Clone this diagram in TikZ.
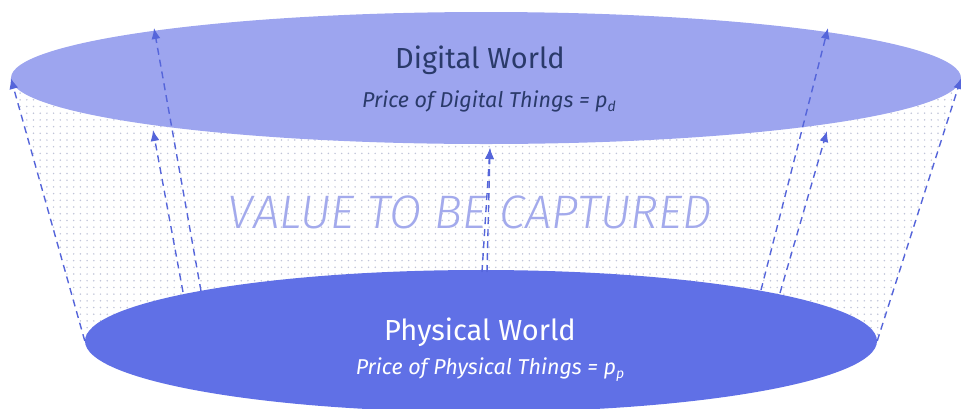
\documentclass[tikz,border=0pt]{standalone}
\usepackage{fontspec}
\setmainfont{Fira Sans}
\newfontfamily\thinfont{Fira Sans Light}[ItalicFont={Fira Sans Light Italic}]
\usetikzlibrary{shapes.geometric,arrows.meta,patterns}

\definecolor{digitalblue}{HTML}{9DA5EF}
\definecolor{physicalblue}{HTML}{6070E6}
\definecolor{arrowblue}{HTML}{5565DA}
\definecolor{navytext}{HTML}{2A3A6A}
\definecolor{valuetext}{HTML}{A3AAEC}
\definecolor{dotgray}{HTML}{C0C4D8}

\pgfdeclarepatternformonly{sparsedots}{\pgfpoint{-1pt}{-1pt}}{\pgfpoint{1pt}{1pt}}{\pgfpoint{6.7pt}{6.7pt}}%
  {\pgfpathcircle{\pgfpointorigin}{0.85pt}\pgfusepath{fill}}

% italic subscript in the text face
\newcommand{\pricesub}[1]{p\raisebox{-0.35ex}{\fontsize{14}{16}\selectfont #1}}

\begin{document}
\begin{tikzpicture}[
    x=1pt, y=-1pt,
    world/.style={ellipse, inner sep=0pt, draw=none},
    flow/.style={draw=arrowblue, line width=1.4pt, dash pattern=on 7pt off 5pt,
                 -{Latex[length=11pt,width=9pt]}},
    title/.style={font=\fontsize{29}{34}\selectfont},
    price/.style={font=\itshape\fontsize{21.5}{26}\selectfont}
]
\useasboundingbox (0,0) rectangle (961,408);

% the two worlds
\node[world, minimum width=950pt, minimum height=132pt] (digital) at (486,78) {};
\node[world, minimum width=792pt, minimum height=142pt] (physical) at (481,341) {};

% dotted gap between them
\fill[pattern=sparsedots, pattern color=dotgray]
  (digital.west) -- (digital.east) -- (physical.east) -- (physical.west) -- cycle;
\fill[digitalblue] (digital.center) ellipse [x radius=475, y radius=66];
\fill[physicalblue] (physical.center) ellipse [x radius=396, y radius=71];

\node[font=\thinfont\itshape\fontsize{47}{54}\selectfont, text=valuetext] (value) at (470,212) {VALUE TO BE CAPTURED};

% arrow ends
\coordinate (bl2) at (183,292); \coordinate (tl2) at (153,130);
\coordinate (bl3) at (201,291); \coordinate (tl3) at (154,28);
\coordinate (bm1) at (482,272); \coordinate (bm2) at (487,272); \coordinate (tm) at (490,148);
\coordinate (br3) at (761,290); \coordinate (tr3) at (828,28);
\coordinate (br2) at (780,293); \coordinate (tr2) at (827,131);

\draw[flow] (physical.west) -- (digital.west);
\draw[flow] (bl2) -- (tl2);
\draw[flow] (bl3) -- (tl3);
\draw[flow] (bm1) -- (tm);
\draw[flow] (bm2) -- (tm);
\draw[flow] (br3) -- (tr3);
\draw[flow] (br2) -- (tr2);
\draw[flow] (physical.east) -- (digital.east);

% labels
\node[title, text=navytext] (digitalname) at (480,60) {Digital World};
\node[price, text=navytext] (digitalprice) at (489,101) {Price of Digital Things = \pricesub{d}};
\node[title, text=white] (physicalname) at (480,332) {Physical World};
\node[price, text=white] (physicalprice) at (490,370) {Price of Physical Things = \pricesub{p}};
\end{tikzpicture}
\end{document}
